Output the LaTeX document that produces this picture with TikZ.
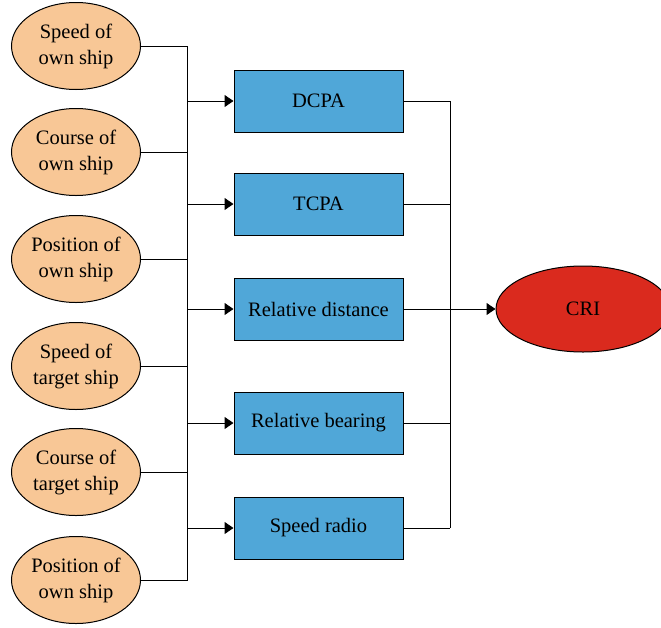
\documentclass[tikz,border=0pt]{standalone}
\usepackage{fontspec}
\setmainfont{Liberation Serif}
\usetikzlibrary{shapes.geometric}
\usetikzlibrary{arrows.meta}
\usetikzlibrary{positioning}

\definecolor{factorfill}{RGB}{248,199,150}
\definecolor{indexfill}{RGB}{80,167,216}
\definecolor{crifill}{RGB}{218,42,30}

\tikzset{
    factor/.style={ellipse, draw, line width=1pt, fill=factorfill, minimum width=129pt,
        minimum height=87pt, inner sep=0pt, align=center, font=\fontsize{20.5}{26}\selectfont},
    index/.style={rectangle, draw, line width=1pt, fill=indexfill, minimum width=169pt,
        minimum height=62pt, inner sep=0pt, font=\fontsize{20.5}{24}\selectfont},
    link/.style={line width=1pt},
    feed/.style={line width=1pt, -{Triangle[length=9pt,width=12pt]}}
}

\begin{document}
\begin{tikzpicture}[x=1pt, y=-1pt]
\useasboundingbox (0,0) rectangle (661,627);
\clip (0,0) rectangle (661,627);

% input factors
\node[factor] (sOwn) at (76,46) {Speed of\\own ship};
\node[factor] (cOwn) at (76,152) {Course of\\own ship};
\node[factor] (pOwn) at (76,259) {Position of\\own ship};
\node[factor] (sTgt) at (76,366) {Speed of\\target ship};
\node[factor] (cTgt) at (76,472) {Course of\\target ship};
\node[factor] (pTgt) at (76,580) {Position of\\own ship};

% collision indices
\node[index] (dcpa) at (318.5,101) {DCPA};
\node[index] (tcpa) at (318.5,204) {TCPA};
\node[index] (dist) at (318.5,309) {Relative distance};
\node[index] (bear) at (318.5,423) {Relative bearing};
\node[index] (spdr) at (318.5,528) {Speed radio};

\node[ellipse, draw, line width=1pt, fill=crifill, minimum width=174pt, minimum height=86pt,
    font=\fontsize{20.5}{24}\selectfont] (cri) at (583,309) {CRI};

% buses
\coordinate (lTop) at (187,46);
\coordinate (lBot) at (187,581);
\coordinate (rTop) at (450,101);
\coordinate (rBot) at (450,528);

\foreach \f in {sOwn,cOwn,pOwn,sTgt,cTgt,pTgt}
    \draw[link] (\f.east) -- (\f.east -| lTop);
\draw[link] (lTop) -- (lBot);
\foreach \i in {dcpa,tcpa,dist,bear,spdr}
    \draw[feed] (\i.west -| lTop) -- (\i.west);

\foreach \i in {dcpa,tcpa,dist,bear,spdr}
    \draw[link] (\i.east) -- (\i.east -| rTop);
\draw[link] (rTop) -- (rBot);
\draw[feed] (cri.west -| rTop) -- (cri.west);

\end{tikzpicture}
\end{document}
